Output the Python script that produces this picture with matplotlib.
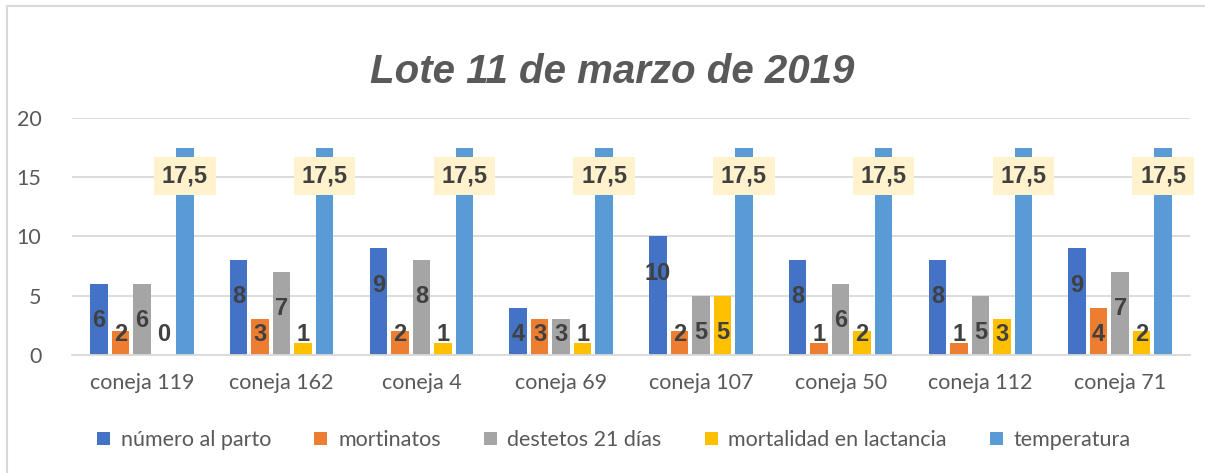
import matplotlib
matplotlib.use("Agg")
import matplotlib.pyplot as plt
from matplotlib.patches import Rectangle
import numpy as np

categories = ["coneja 119", "coneja 162", "coneja 4", "coneja 69",
              "coneja 107", "coneja 50", "coneja 112", "coneja 71"]
numero_al_parto = [6, 8, 9, 4, 10, 8, 8, 9]
mortinatos = [2, 3, 2, 3, 2, 1, 1, 4]
destetos_21 = [6, 7, 8, 3, 5, 6, 5, 7]
mortalidad_lact = [0, 1, 1, 1, 5, 2, 3, 2]
temperatura = [17.5] * 8
series_names = ["número al parto", "mortinatos", "destetos 21 días",
                "mortalidad en lactancia", "temperatura"]
yticks = [0, 5, 10, 15, 20]

series = [numero_al_parto, mortinatos, destetos_21, mortalidad_lact, temperatura]
colors = ["#4472C4", "#ED7D31", "#A5A5A5", "#FFC000", "#5B9BD5"]

plt.rcParams['font.family'] = ['Lato', 'DejaVu Sans']
BOLD = ['Liberation Sans', 'DejaVu Sans']

W, H = 1205, 473
fig = plt.figure(figsize=(W / 100, H / 100), dpi=100)
ax = fig.add_axes([72 / W, 1 - 355 / H, (1190 - 72) / W, (355 - 118) / H])

x = np.arange(len(categories))
step = 0.154
width = 0.125
txt_color = "#404040"
for k, (vals, c, name) in enumerate(zip(series, colors, series_names)):
    pos = x + (k - 2) * step
    ax.bar(pos, vals, width=width, color=c, label=name, zorder=2)
    for px, v in zip(pos, vals):
        lab = f"{v:g}".replace(".", ",")
        if k == 4:
            ax.text(px, v - 2.4, lab, ha="center", va="center", fontsize=17,
                    family=BOLD, fontweight="bold", color=txt_color, zorder=4,
                    bbox=dict(boxstyle="square,pad=0.33", fc="#FFF2CC", ec="none"))
        else:
            ax.text(px, max(v - 3.1, 1.7), lab, ha="center", va="center",
                    fontsize=17, family=BOLD, fontweight="bold",
                    color=txt_color, zorder=4)

ax.set_xlim(-0.5, len(categories) - 0.5)
ax.set_ylim(0, 20)
ax.set_yticks(yticks)
ax.set_xticks(x)
ax.set_xticklabels(categories)
ax.tick_params(axis="both", length=0, labelsize=15.5, colors="#595959")
ax.tick_params(axis="y", pad=22)
ax.tick_params(axis="x", pad=13)
ax.yaxis.grid(True, color="#D9D9D9", linewidth=1.3, zorder=0)
ax.set_axisbelow(True)
for s in ["top", "right", "left"]:
    ax.spines[s].set_visible(False)
ax.spines["bottom"].set_color("#D9D9D9")
ax.spines["bottom"].set_linewidth(1.3)

fig.text(612 / W, 1 - 72 / H, "Lote 11 de marzo de 2019", ha="center", va="center",
         fontsize=29, family=BOLD, fontstyle="italic", fontweight="bold",
         color="#595959")

leg = fig.legend(loc="center", bbox_to_anchor=(614 / W, 1 - 440 / H), ncol=5,
                 frameon=False, fontsize=15.5, handlelength=0.6, handleheight=0.6,
                 handletextpad=0.5, columnspacing=2.0, labelcolor="#595959")

fig.add_artist(Rectangle((7 / W, -0.05), 1.1, 1 - 6 / H + 0.05, transform=fig.transFigure,
                         fill=False, ec="#D9D9D9", lw=1.5))

fig.savefig("out.png", dpi=100)
